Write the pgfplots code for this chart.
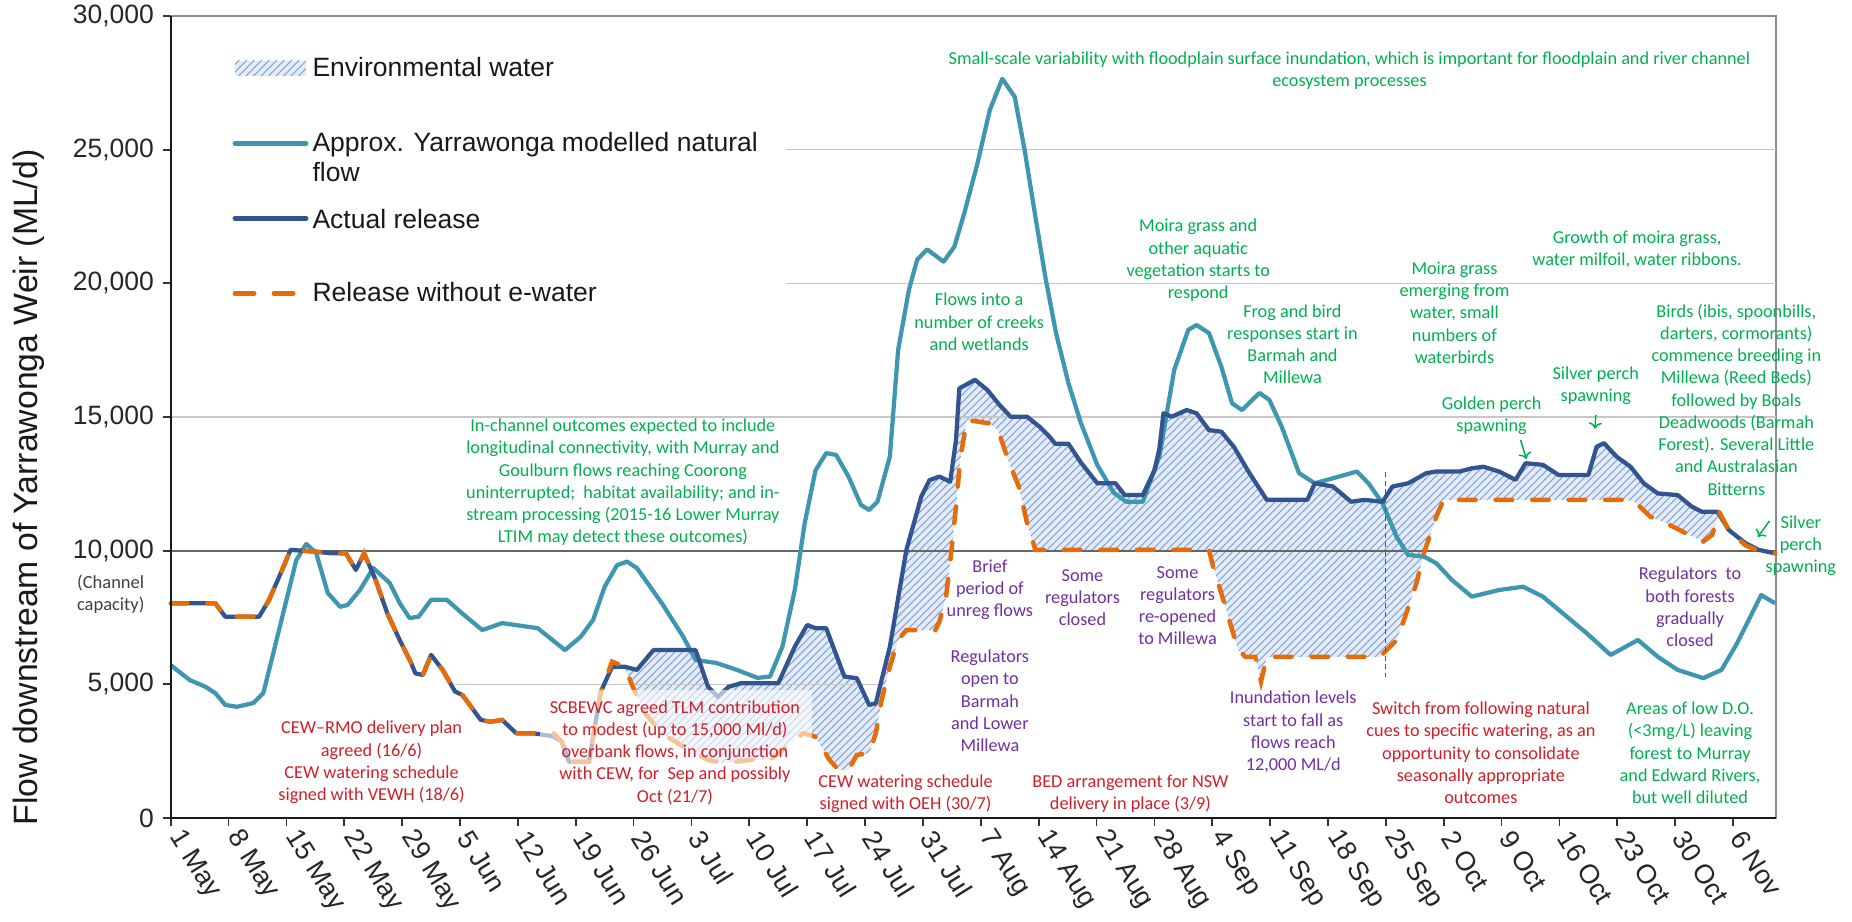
\documentclass[border=0pt]{standalone}
\usepackage{pgfplots}
\pgfplotsset{compat=1.18}
\usepackage{pgfplotstable}
\usepgfplotslibrary{fillbetween}
\usetikzlibrary{patterns,arrows.meta}
\usepackage{fontspec}
\setmainfont{Liberation Sans}
\newfontfamily\calfont{Carlito}
\definecolor{nat}{RGB}{62,150,176}
\definecolor{act}{RGB}{50,85,145}
\definecolor{rel}{RGB}{228,108,10}
\definecolor{grn}{RGB}{0,176,80}
\definecolor{annred}{RGB}{210,30,40}
\definecolor{pur}{RGB}{112,48,160}
\definecolor{hatchbg}{RGB}{226,235,247}
\definecolor{hatchln}{RGB}{120,155,210}
\tikzset{
  ann/.style={align=center, font=\calfont\fontsize{7.3}{8.9}\selectfont, inner sep=0pt},
  leg/.style={anchor=base west, inner sep=0pt, font=\fontsize{10.6}{12}\selectfont, text=black!90},
}

\pgfplotstableread{
d v
0 5720
2.3 5160
4.2 4910
5.4 4670
6.6 4230
8.0 4160
10.0 4300
11.2 4670
12.3 6030
13.8 7900
15.2 9650
16.4 10250
17.6 9910
19.0 8420
20.5 7900
21.4 7970
22.9 8530
24.5 9350
26.5 8790
27.7 8040
28.9 7480
30.0 7530
31.5 8160
33.4 8160
35.5 7590
37.7 7030
40.1 7290
44.4 7100
47.7 6280
49.6 6780
51.1 7410
52.5 8650
54.0 9460
55.2 9590
56.4 9350
59.4 8040
62.0 6780
63.5 5910
66.0 5800
68.5 5540
71.0 5240
72.5 5290
74.0 6410
75.5 8530
76.7 11030
78.0 13000
79.3 13650
80.5 13580
82.0 12770
83.5 11710
84.5 11520
85.5 11830
87.0 13520
88.0 17510
89.3 19750
90.3 20880
91.5 21270
93.5 20810
94.8 21370
96.0 22620
97.6 24490
99.1 26490
100.6 27650
102.1 26980
103.3 24990
104.6 22500
105.8 20250
107.1 18140
108.6 16270
110.1 14780
112.1 13200
114.1 12160
115.6 11830
117.6 11830
119.6 13520
121.4 16760
123.1 18260
124.1 18440
125.6 18140
127.1 16880
128.4 15510
129.6 15260
131.7 15900
132.9 15640
134.4 14640
136.5 12900
138.4 12520
140.6 12710
143.5 12960
144.9 12520
146.6 11770
148.3 10520
149.7 9840
151.6 9780
153.1 9530
155.0 8900
157.4 8280
160.7 8530
163.6 8650
166.0 8280
168.4 7660
171.3 6910
174.2 6100
177.5 6660
179.9 6030
182.3 5540
185.4 5230
187.6 5540
189.5 6540
192.4 8340
194.1 8030
}\natdata

\pgfplotstableread{
d v
0 8030
5.4 8030
6.6 7530
10.7 7530
11.9 8160
13.3 9150
14.5 10030
17.6 9960
19.5 9900
21.2 9900
22.4 9280
23.4 9900
24.8 8900
26.2 7660
27.7 6660
29.1 5790
29.6 5410
30.5 5350
31.5 6100
32.9 5540
34.4 4730
35.3 4600
37.5 3670
38.7 3600
40.1 3670
41.8 3170
43.9 3170
46.3 3050
47.3 2860
48.2 2100
50.6 2100
52.0 4700
53.4 5660
54.9 5660
56.4 5540
58.4 6280
59.9 6280
63.5 6280
65.0 4910
66.2 4530
67.5 4910
69.0 5040
73.5 5040
75.5 6410
77.0 7220
78.0 7100
79.3 7100
81.5 5290
83.0 5230
84.5 4230
85.3 4290
87.0 6410
89.0 10030
90.8 12020
91.8 12640
93.0 12770
94.3 12580
95.0 14140
95.4 16070
97.3 16390
98.8 16010
100.1 15510
101.6 15010
103.6 15010
105.1 14640
106.3 14270
107.0 14000
108.6 14000
110.1 13300
112.1 12520
114.3 12520
115.4 12080
117.6 12080
119.0 13000
119.6 13800
120.1 15140
121.1 15010
122.9 15260
124.1 15140
125.6 14510
127.1 14450
128.6 13890
130.5 12900
132.6 11900
137.5 11900
138.4 12520
140.6 12400
142.8 11830
144.4 11900
146.6 11830
147.8 12400
149.7 12520
151.9 12900
153.1 12960
155.9 12960
157.4 13080
158.8 13140
160.7 12960
162.7 12650
163.9 13270
166.0 13210
167.9 12830
171.5 12830
172.5 13890
173.4 14020
174.9 13520
176.6 13140
178.2 12520
179.9 12140
182.3 12080
184.0 11650
185.2 11460
187.1 11460
188.5 10770
190.5 10280
192.1 10030
194.1 9900
}\actdata

\pgfplotstableread{
d v
0 8030
5.4 8030
6.6 7530
10.7 7530
11.9 8160
13.3 9150
14.5 10030
17.6 9960
19.5 9900
21.2 9900
22.4 9280
23.4 9900
24.8 8900
26.2 7660
27.7 6660
29.1 5790
29.6 5410
30.5 5350
31.5 6100
32.9 5540
34.4 4730
35.3 4600
37.5 3670
38.7 3600
40.1 3670
41.8 3170
43.9 3170
46.3 3170
47.3 2860
48.2 2100
50.6 2100
52.0 4670
53.4 5850
54.9 5660
55.9 4910
57.4 3910
59.4 3170
62.0 2670
65.0 2170
67.0 2050
70.0 2170
72.5 2170
74.5 2670
76.5 3170
78.0 3040
79.7 2170
80.8 1800
82.0 1800
83.0 2360
84.5 2420
85.3 3170
86.0 4410
87.0 5660
88.0 6660
89.0 7030
92.5 7030
93.0 7340
93.8 8280
94.5 10150
95.0 11650
95.5 13390
96.3 14890
99.1 14760
100.1 14510
101.3 13390
102.6 12400
103.6 11030
104.6 10030
125.6 10030
126.1 9400
127.6 7900
129.1 6300
130.0 6030
131.2 6030
131.9 5100
132.6 6030
146.3 6030
148.3 6660
149.2 7410
150.7 8780
151.6 9900
153.1 11270
154.0 11900
176.1 11900
177.1 11830
179.0 11270
180.9 11030
183.3 10650
185.4 10340
186.5 10600
187.3 11460
188.5 10770
190.5 10200
192.1 10000
194.1 9900
}\reldata

\begin{document}
\begin{tikzpicture}
\begin{axis}[
  at={(0pt,0pt)}, anchor=south west,
  scale only axis, width=642.12pt, height=320.8pt,
  xmin=0, xmax=194.2, ymin=0, ymax=30000,
  clip=false,
  axis line style={draw=black!45, line width=0.8pt},
  xtick={0,7,...,189},
  xticklabels={1 May,8 May,15 May,22 May,29 May,5 Jun,12 Jun,19 Jun,26 Jun,3 Jul,10 Jul,17 Jul,24 Jul,31 Jul,7 Aug,14 Aug,21 Aug,28 Aug,4 Sep,11 Sep,18 Sep,25 Sep,2 Oct,9 Oct,16 Oct,23 Oct,30 Oct,6 Nov},
  ytick={0,5000,...,30000},
  scaled y ticks=false,
  tick align=outside, xtick pos=bottom, ytick pos=left,
  major tick length=3.2pt,
  tick style={black!80, line width=0.7pt},
  xticklabel style={rotate=-58, anchor=west, font=\fontsize{10.8}{12}\selectfont, text=black!85},
  yticklabel style={font=\fontsize{10.6}{12}\selectfont, text=black!85},
  /pgf/number format/1000 sep={,},
  /pgf/number format/assume math mode=true,
]
% grid lines
\draw[black!22, line width=0.6pt] (74.4,25000) -- (194.2,25000);
\draw[black!22, line width=0.6pt] (74.4,20000) -- (194.2,20000);
\draw[black!22, line width=0.6pt] (0,15000) -- (194.2,15000);
\draw[black!22, line width=0.6pt] (34.4,5000) -- (86,5000);

\addplot[draw=none, name path=A, forget plot] table[x=d,y=v] {\actdata};
\addplot[draw=none, name path=B, forget plot] table[x=d,y=v] {\reldata};
\addplot[fill=hatchbg, draw=none] fill between[of=A and B];
\addplot[pattern=north east lines, pattern color=hatchln, draw=none] fill between[of=A and B];

\draw[black!60, line width=0.9pt] (0,10000) -- (194.2,10000);

\addplot[nat, line width=1.7pt, line join=round] table[x=d,y=v] {\natdata};
\addplot[act, line width=1.7pt, line join=round] table[x=d,y=v] {\actdata};
\addplot[rel, line width=1.8pt, line cap=round, dash pattern=on 6.6pt off 8pt] table[x=d,y=v] {\reldata};

% faded text box
\fill[white, opacity=0.6] (44.7,200) rectangle (77.6,4790);

% left and bottom axis lines
\draw[black!90, line width=0.9pt] (rel axis cs:0,1) -- (rel axis cs:0,0) -- (rel axis cs:1,0);

% switch line
\draw[annred, line width=0.5pt, dash pattern=on 2pt off 1.5pt] (147.0,12950) -- (147.0,5290);

% legend
\fill[hatchbg] (7.78,27757) rectangle (16.36,28318);
\fill[pattern=north east lines, pattern color=hatchln] (7.78,27757) rectangle (16.36,28318);
\node[leg] at (17.1,27732) {Environmental water};
\draw[nat, line width=2pt, line cap=round] (7.78,25240) -- (16.36,25240);
\node[leg] at (17.1,24927) {Approx. Yarrawonga modelled natural};
\node[leg] at (17.1,23805) {flow};
\draw[act, line width=2pt, line cap=round] (7.78,22434) -- (16.36,22434);
\node[leg] at (17.1,22066) {Actual release};
\draw[rel, line width=2pt, line cap=round, dash pattern=on 7.6pt off 8pt] (7.78,19628) -- (16.36,19628);
\node[leg] at (17.1,19315) {Release without e-water};

% axis label and channel capacity
\node[rotate=90, font=\fontsize{13.5}{15}\selectfont, text=black!90] at (-17.14,12364) {Flow downstream of Yarrawonga Weir (ML/d)};
\node[align=center, font=\calfont\fontsize{7.4}{8.9}\selectfont, text=black!75] at (-7.26,8380) {(Channel\\capacity)};

% green annotations
\node[ann, text=grn] at (142.6,27950) {Small-scale variability with floodplain surface inundation, which is important for floodplain and river channel\\ecosystem processes};
\node[ann, text=grn] at (54.7,12555) {In-channel outcomes expected to include\\longitudinal connectivity, with Murray and\\Goulburn flows reaching Coorong\\uninterrupted;\ \ habitat availability; and in-\\stream processing (2015-16 Lower Murray\\LTIM may detect these outcomes)};
\node[ann, text=grn] at (97.8,18560) {Flows into a\\number of creeks\\and wetlands};
\node[ann, text=grn] at (124.3,20860) {Moira grass and\\other aquatic\\vegetation starts to\\respond};
\node[ann, text=grn] at (135.7,17720) {Frog and bird\\responses start in\\Barmah and\\Millewa};
\node[ann, text=grn] at (155.3,18900) {Moira grass\\emerging from\\water, small\\numbers of\\waterbirds};
\node[ann, text=grn] at (177.4,21280) {Growth of moira grass,\\water milfoil, water ribbons.};
\node[ann, text=grn] at (159.8,15060) {Golden perch\\spawning};
\node[ann, text=grn] at (172.4,16160) {Silver perch\\spawning};
\node[ann, text=grn] at (189.4,15650) {Birds (ibis, spoonbills,\\darters, cormorants)\\commence breeding in\\Millewa (Reed Beds)\\followed by Boals\\Deadwoods (Barmah\\Forest). Several Little\\and Australasian\\Bitterns};
\node[ann, text=grn] at (197.2,10190) {Silver\\perch\\spawning};
\node[ann, text=grn] at (183.8,2440) {Areas of low D.O.\\(<3mg/L) leaving\\forest to Murray\\and Edward Rivers,\\but well diluted};
\draw[grn, line width=0.6pt, -{To[length=2.5pt]}] (163.3,14140) -- (164.0,13430);
\draw[grn, line width=0.6pt, -{To[length=2.5pt]}] (172.4,15076) -- (172.3,14560);
\draw[grn, line width=0.6pt, -{To[length=2.5pt]}] (193.4,11110) -- (192.0,10510);

% red annotations
\node[ann, text=annred] at (24.3,2080) {CEW–RMO delivery plan\\agreed (16/6)\\CEW watering schedule\\signed with VEWH (18/6)};
\node[ann, text=annred] at (61.0,2450) {SCBEWC agreed TLM contribution\\to modest (up to 15,000 Ml/d)\\overbank flows, in conjunction\\with CEW, for\ \ Sep and possibly\\Oct (21/7)};
\node[ann, text=annred] at (88.9,905) {CEW watering schedule\\signed with OEH (30/7)};
\node[ann, text=annred] at (116.1,905) {BED arrangement for NSW\\delivery in place (3/9)};
\node[ann, text=annred] at (158.5,2440) {Switch from following natural\\cues to specific watering, as an\\opportunity to consolidate\\seasonally appropriate\\outcomes};

% purple annotations
\node[ann, text=pur] at (99.1,8530) {Brief\\period of\\unreg flows};
\node[ann, text=pur] at (99.1,4385) {Regulators\\open to\\Barmah\\and Lower\\Millewa};
\node[ann, text=pur] at (110.3,8240) {Some\\regulators\\closed};
\node[ann, text=pur] at (121.8,7940) {Some\\regulators\\re-opened\\to Millewa};
\node[ann, text=pur] at (135.8,3210) {Inundation levels\\start to fall as\\flows reach\\12,000 ML/d};
\node[ann, text=pur] at (183.8,7890) {Regulators\ \ to\\both forests\\gradually\\closed};
\end{axis}
\pgfresetboundingbox
\path (-68.28pt,-41.6pt) rectangle (672.52pt,327.2pt);
\end{tikzpicture}
\end{document}
